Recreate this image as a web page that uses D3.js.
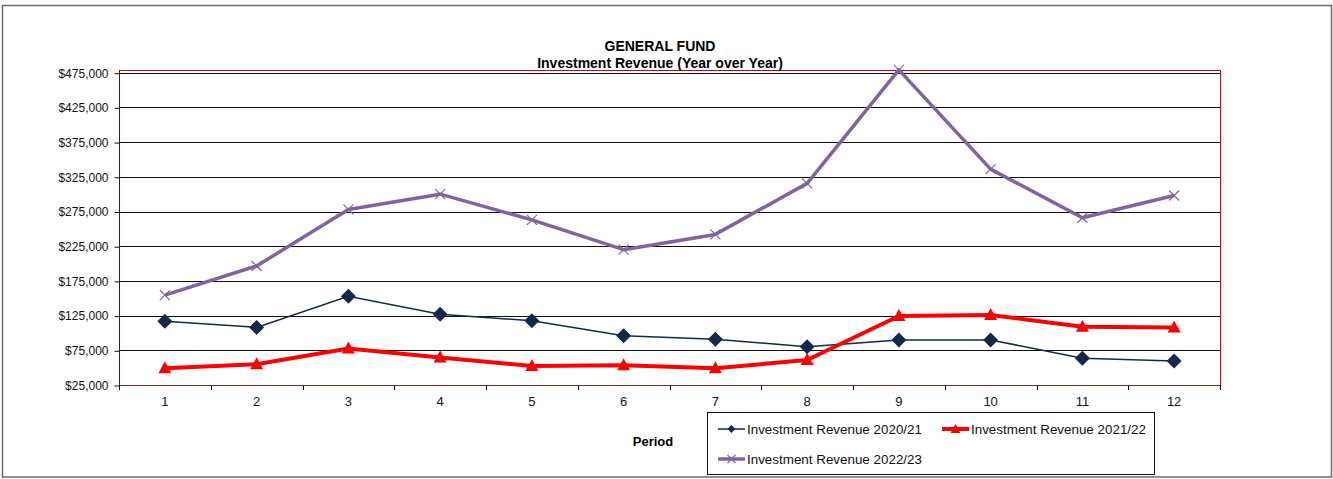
<!DOCTYPE html>
<html>
<head>
<meta charset="utf-8">
<script src="https://cdn.jsdelivr.net/npm/d3@7/dist/d3.min.js"></script>
<style>
  html, body { margin: 0; padding: 0; background: #fff; }
  svg { display: block; font-family: "Liberation Sans", Arial, sans-serif; }
</style>
</head>
<body>
<svg id="chart" width="1333" height="479"></svg>
<script>
const periods = [1, 2, 3, 4, 5, 6, 7, 8, 9, 10, 11, 12];
const rev2021 = [117000, 108000, 153000, 127000, 117500, 96000, 91000, 80000, 90000, 90000, 63500, 59500];
const rev2122 = [49000, 55000, 77500, 64500, 52500, 53500, 49000, 61000, 124500, 126000, 109000, 108000];
const rev2223 = [154500, 196500, 278000, 300000, 263000, 220000, 242000, 315500, 479000, 336000, 266000, 298000];
const yTicks = [25000, 75000, 125000, 175000, 225000, 275000, 325000, 375000, 425000, 475000];
const seriesNames = ["Investment Revenue 2020/21", "Investment Revenue 2021/22", "Investment Revenue 2022/23"];
const titleLines = ["GENERAL FUND", "Investment Revenue (Year over Year)"];
const xTitle = "Period";

const svg = d3.select("#chart");
const plot = { left: 119, right: 1220, top: 70, bottom: 385 };

// outer frame
svg.append("rect").attr("x", 2.5).attr("y", 5.5).attr("width", 1329).attr("height", 471.5)
  .attr("fill", "#fff").attr("stroke", "#6a6a6a").attr("stroke-width", 1.5);

const x = d3.scaleBand().domain(periods).range([plot.left, plot.right]).padding(0);
const y = d3.scaleLinear().domain([25000, 475000]).range([plot.bottom, 72.7]);
const cx = d => x(d) + x.bandwidth() / 2;

// gridlines
svg.append("g").selectAll("line").data(yTicks).join("line")
  .attr("x1", plot.left).attr("x2", plot.right)
  .attr("y1", d => Math.round(y(d)) + 0.5).attr("y2", d => Math.round(y(d)) + 0.5)
  .attr("stroke", "#111").attr("stroke-width", 1);

// plot border (red)
svg.append("rect").attr("x", plot.left + 0.5).attr("y", plot.top + 0.5)
  .attr("width", plot.right - plot.left).attr("height", plot.bottom - plot.top)
  .attr("fill", "none").attr("stroke", "#d40000").attr("stroke-width", 1);

// y axis
const yAxis = d3.axisLeft(y).tickValues(yTicks).tickSize(5).tickPadding(6)
  .tickFormat(d => "$" + d3.format(",")(d));
const gy = svg.append("g").attr("transform", `translate(${plot.left + 0.5},0.5)`).call(yAxis);
gy.select(".domain").attr("stroke", "#5a1010").attr("d", `M0,${plot.top}V${plot.bottom}`);
gy.selectAll(".tick line").attr("stroke", "#111");
gy.selectAll(".tick text").attr("font-size", "12px").attr("fill", "#111")
  .attr("font-family", "Liberation Sans, Arial, sans-serif");

// x axis
const xAxis = d3.axisBottom(x).tickSize(0).tickPadding(11);
const gx = svg.append("g").attr("transform", `translate(0,${plot.bottom + 0.5})`).call(xAxis);
gx.select(".domain").attr("stroke", "#8a2a2a").attr("d", `M${plot.left},0H${plot.right}`);
gx.selectAll(".tick text").attr("font-size", "13px").attr("fill", "#111")
  .attr("font-family", "Liberation Sans, Arial, sans-serif");
// category boundary ticks
const bounds = periods.map(p => x(p)).concat([x(periods[periods.length - 1]) + x.bandwidth()]);
svg.append("g").selectAll("line").data(bounds).join("line")
  .attr("x1", d => Math.round(d) + 0.5).attr("x2", d => Math.round(d) + 0.5)
  .attr("y1", plot.bottom).attr("y2", plot.bottom + 5)
  .attr("stroke", "#111").attr("stroke-width", 1);

// titles
svg.append("text").attr("x", 660).attr("y", 51).attr("text-anchor", "middle")
  .attr("font-size", "14px").attr("font-weight", "bold").attr("fill", "#000").text(titleLines[0]);
svg.append("text").attr("x", 660).attr("y", 67.5).attr("text-anchor", "middle")
  .attr("font-size", "14px").attr("font-weight", "bold").attr("fill", "#000").text(titleLines[1]);
svg.append("text").attr("x", 653).attr("y", 445.5).attr("text-anchor", "middle")
  .attr("font-size", "13px").attr("font-weight", "bold").attr("fill", "#000").text(xTitle);

const line = d3.line().x((d, i) => cx(periods[i])).y(d => y(d));

const navy = "#13294b", red = "#ff0000", purple = "#8064a2";

// 2022/23 purple
svg.append("path").datum(rev2223).attr("d", line).attr("fill", "none")
  .attr("stroke", purple).attr("stroke-width", 3.5).attr("stroke-linejoin", "round");
const xMark = (g, px, py, s) => {
  g.append("path").attr("d", `M${px - s},${py - s}L${px + s},${py + s}M${px - s},${py + s}L${px + s},${py - s}`)
    .attr("stroke", purple).attr("stroke-width", 1.2).attr("fill", "none");
};
const gP = svg.append("g");
rev2223.forEach((v, i) => xMark(gP, cx(periods[i]), y(v), 5));

// 2020/21 navy
svg.append("path").datum(rev2021).attr("d", line).attr("fill", "none")
  .attr("stroke", navy).attr("stroke-width", 1.5);
svg.append("g").selectAll("path").data(rev2021).join("path")
  .attr("d", (d, i) => { const px = cx(periods[i]), py = y(d), s = 7.5;
    return `M${px},${py - s}L${px + s},${py}L${px},${py + s}L${px - s},${py}Z`; })
  .attr("fill", navy);

// 2021/22 red
svg.append("path").datum(rev2122).attr("d", line).attr("fill", "none")
  .attr("stroke", red).attr("stroke-width", 4).attr("stroke-linejoin", "round");
svg.append("g").selectAll("path").data(rev2122).join("path")
  .attr("d", (d, i) => { const px = cx(periods[i]), py = y(d);
    return `M${px},${py - 7}L${px + 6.5},${py + 5}L${px - 6.5},${py + 5}Z`; })
  .attr("fill", red);

// legend
const lg = svg.append("g");
lg.append("rect").attr("x", 707.5).attr("y", 412.5).attr("width", 447).attr("height", 62)
  .attr("fill", "#fff").attr("stroke", "#111").attr("stroke-width", 1);
const items = [
  { name: seriesNames[0], x: 718, y: 429, color: navy, w: 1.5, mark: "diamond" },
  { name: seriesNames[1], x: 942, y: 429, color: red, w: 4, mark: "tri" },
  { name: seriesNames[2], x: 718, y: 459, color: purple, w: 3.5, mark: "x" }
];
items.forEach(it => {
  lg.append("line").attr("x1", it.x).attr("x2", it.x + 27).attr("y1", it.y).attr("y2", it.y)
    .attr("stroke", it.color).attr("stroke-width", it.w);
  const mx = it.x + 13.5, my = it.y;
  if (it.mark === "diamond") {
    lg.append("path").attr("d", `M${mx},${my - 4}L${mx + 4},${my}L${mx},${my + 4}L${mx - 4},${my}Z`).attr("fill", it.color);
  } else if (it.mark === "tri") {
    lg.append("path").attr("d", `M${mx},${my - 5}L${mx + 5},${my + 4}L${mx - 5},${my + 4}Z`).attr("fill", it.color);
  } else {
    const s = 4;
    lg.append("path").attr("d", `M${mx - s},${my - s}L${mx + s},${my + s}M${mx - s},${my + s}L${mx + s},${my - s}`)
      .attr("stroke", it.color).attr("stroke-width", 1.2);
  }
  lg.append("text").attr("x", it.x + 29).attr("y", it.y + 5).attr("font-size", "13.4px")
    .attr("fill", "#111").text(it.name);
});
</script>
</body>
</html>
